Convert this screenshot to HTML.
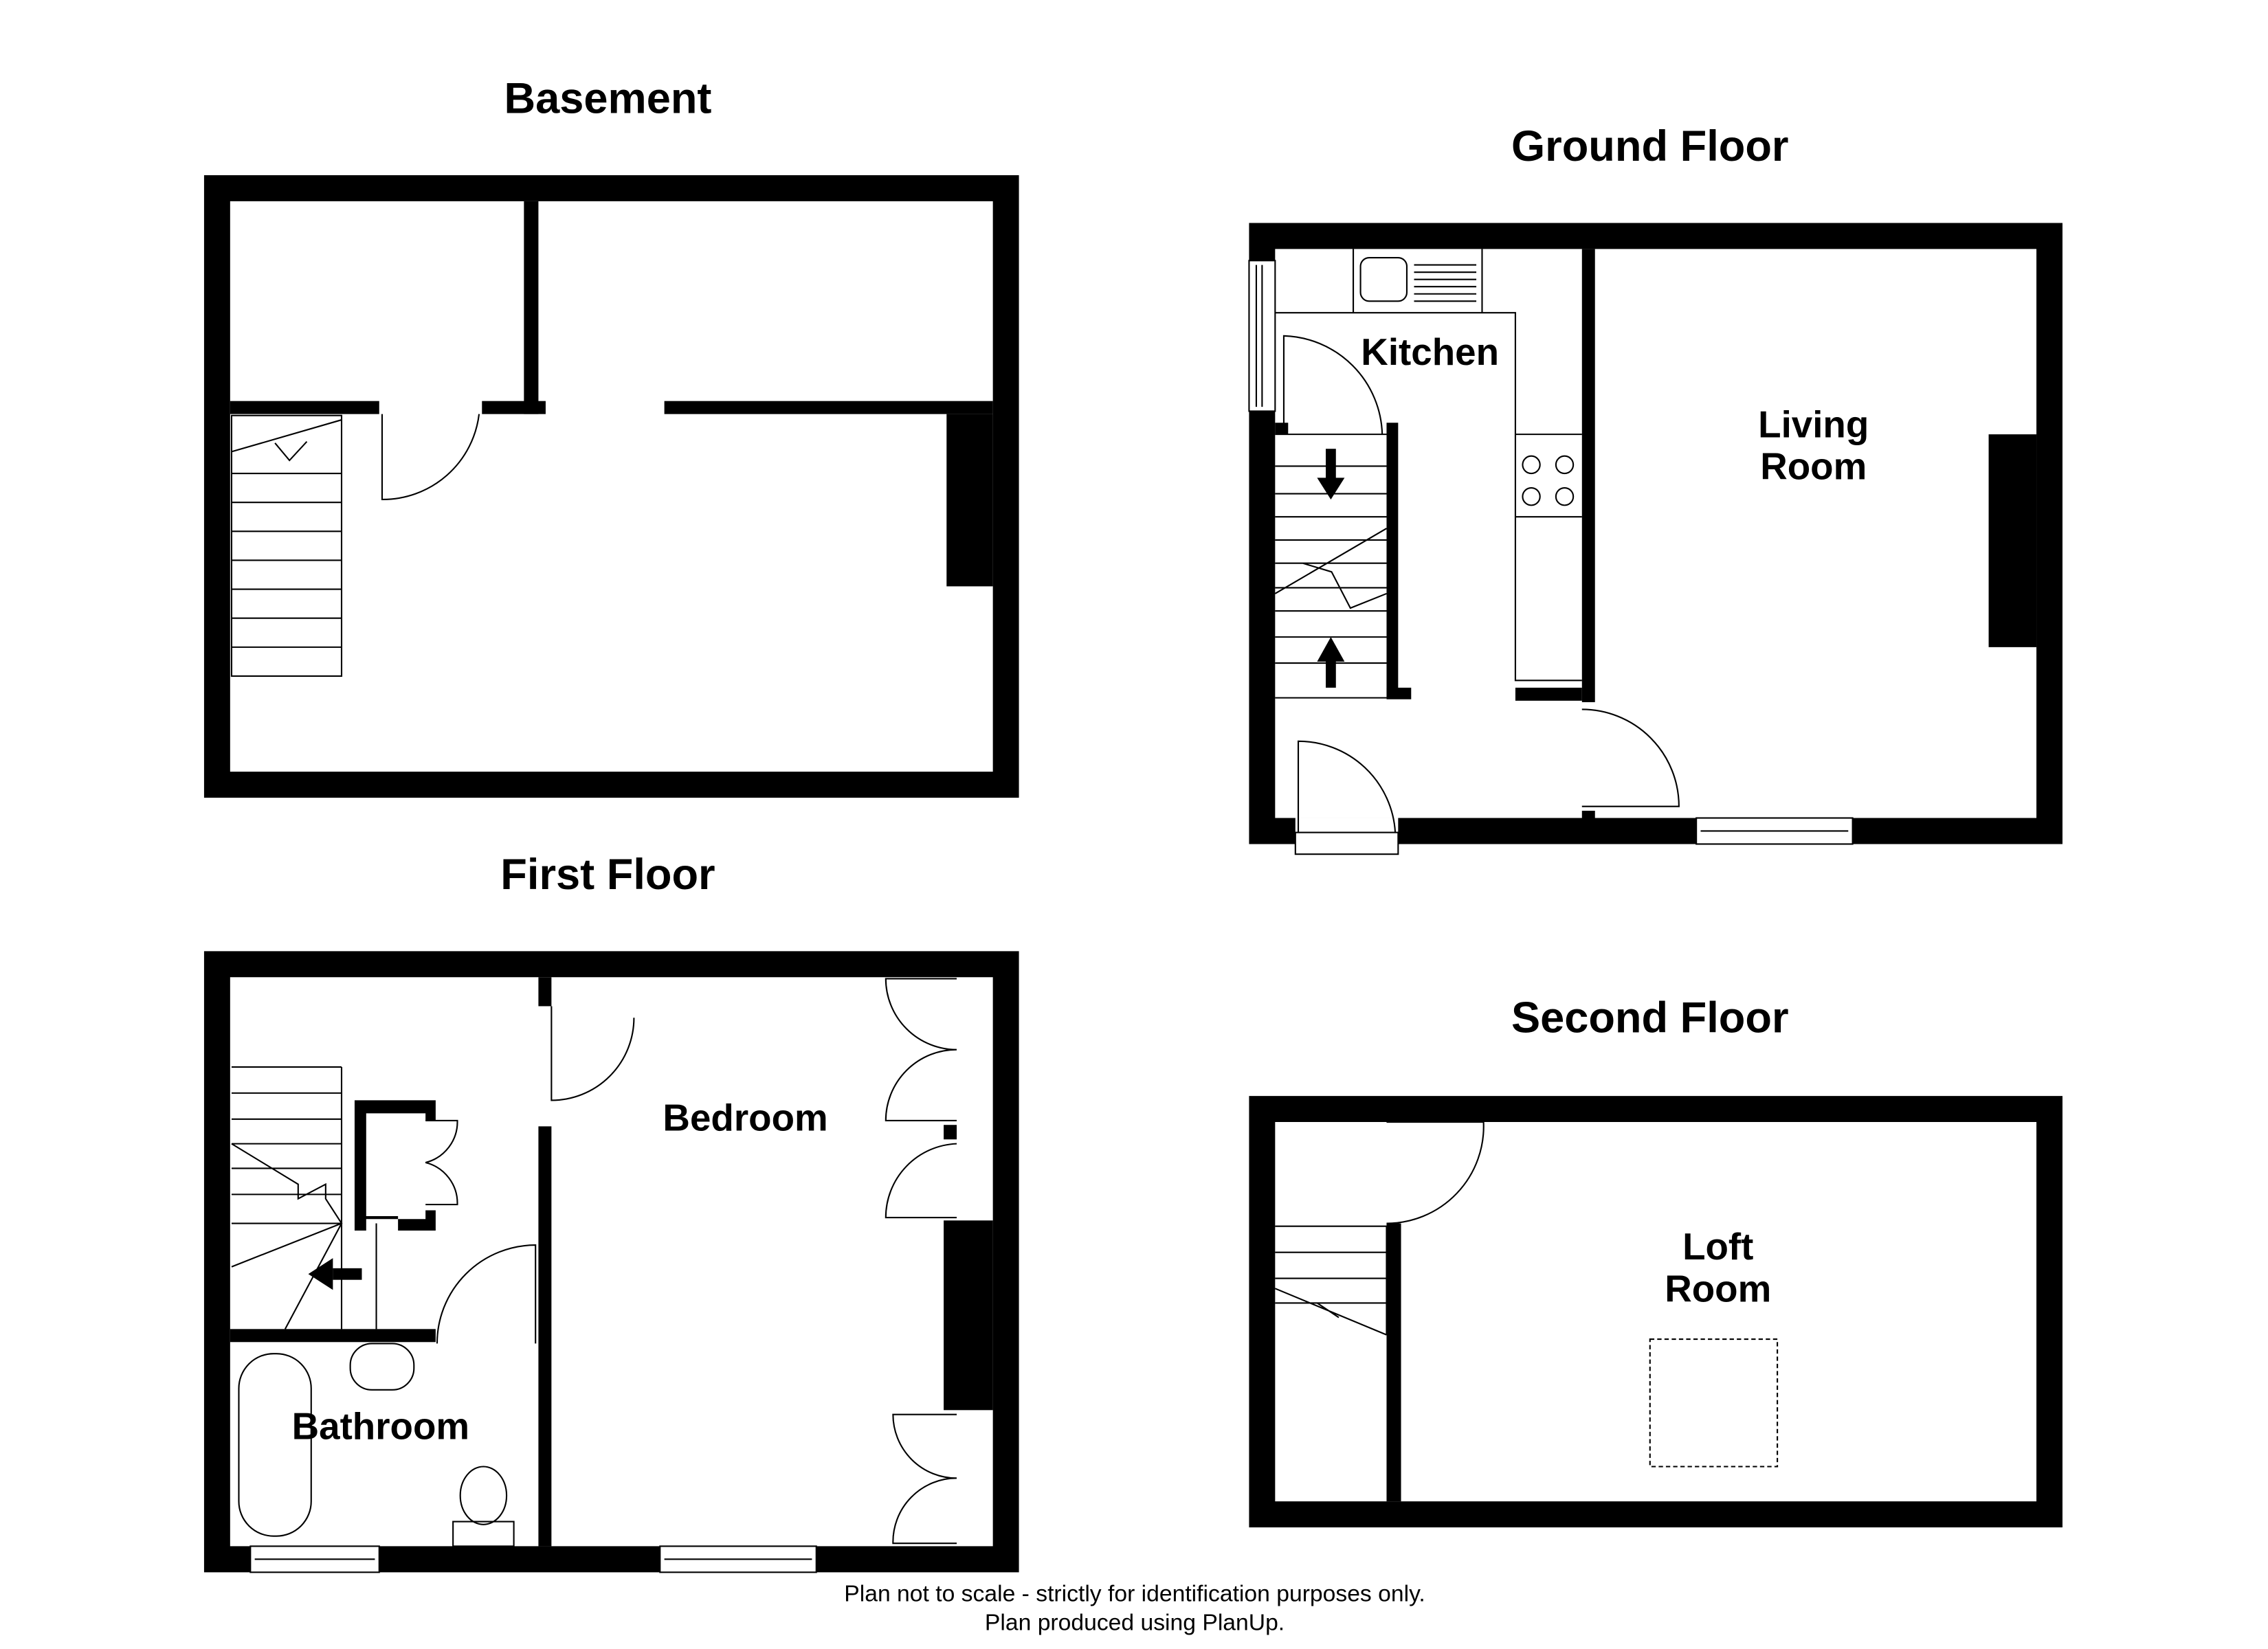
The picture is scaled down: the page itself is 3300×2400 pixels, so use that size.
<!DOCTYPE html>
<html><head><meta charset="utf-8"><style>html,body{margin:0;padding:0;background:#fff}svg{display:block}</style></head>
<body>
<svg width="3300" height="2400" viewBox="0 0 1567 1139" preserveAspectRatio="none" xmlns="http://www.w3.org/2000/svg" font-family="Liberation Sans, Arial, sans-serif">
<rect width="1567" height="1139" fill="#fff"/>
<g font-weight="bold" font-size="30" text-anchor="middle" fill="#000">
<text x="420" y="78">Basement</text>
<text x="1140" y="111">Ground Floor</text>
<text x="420" y="614">First Floor</text>
<text x="1140" y="713">Second Floor</text>
</g>
<g fill="none" stroke="#000" stroke-width="1">
<!-- BASEMENT -->
<path fill-rule="evenodd" fill="#000" stroke="none" d="M141 121H704V551H141Z M159 139H686V533H159Z"/>
<rect x="362" y="139" width="10" height="147" fill="#000" stroke="none"/>
<rect x="159" y="277" width="103" height="9" fill="#000" stroke="none"/>
<rect x="333" y="277" width="44" height="9" fill="#000" stroke="none"/>
<rect x="459" y="277" width="227" height="9" fill="#000" stroke="none"/>
<rect x="654" y="286" width="32" height="119" fill="#000" stroke="none"/>
<rect x="160" y="287" width="76" height="180"/>
<path d="M160 327H236M160 347H236M160 367H236M160 387H236M160 407H236M160 427H236M160 447H236M160 312L236 290M190 306L200 318L212 305"/>
<path d="M264 286V345A67 67 0 0 0 331 286"/>
<!-- GROUND -->
<path fill-rule="evenodd" fill="#000" stroke="none" d="M863 154H1425V583H863Z M881 172H1407V565H881Z"/>
<rect x="1093" y="172" width="9" height="313" fill="#000" stroke="none"/>
<rect x="1047" y="475" width="46" height="9" fill="#000" stroke="none"/>
<rect x="1093" y="560" width="9" height="6" fill="#000" stroke="none"/>
<rect x="1374" y="300" width="33" height="147" fill="#000" stroke="none"/>
<rect x="958" y="292" width="8" height="190" fill="#000" stroke="none"/>
<rect x="958" y="475" width="17" height="8" fill="#000" stroke="none"/>
<rect x="881" y="292" width="9" height="8" fill="#000" stroke="none"/>
<rect x="863" y="180" width="18" height="104" fill="#fff"/>
<path d="M872 183V281M868 183V281"/>
<rect x="895" y="565" width="71" height="18" fill="#fff" stroke="none"/>
<rect x="895" y="575" width="71" height="15" fill="#fff"/>
<path d="M897 575V512A67 67 0 0 1 964 575"/>
<rect x="1172" y="565" width="108" height="18" fill="#fff"/>
<path d="M1175 574H1277"/>
<path d="M881 216H1047V470H1093M1047 300H1093M1047 357H1093M935 172V216M1024 172V216"/>
<rect x="940" y="178" width="32" height="30" rx="6"/>
<path d="M977 183H1020M977 188H1020M977 193H1020M977 198H1020M977 203H1020M977 208H1020"/>
<circle cx="1058" cy="321" r="6"/><circle cx="1081" cy="321" r="6"/><circle cx="1058" cy="343" r="6"/><circle cx="1081" cy="343" r="6"/>
<path d="M887 300V232A70 70 0 0 1 955 300"/>
<path d="M881 300H958M881 322H958M881 341H958M881 357H958M881 373H958M881 389H958M881 406H958M881 422H958M881 440H958M881 458H958M881 482H958M881 410L958 365M900 389L920 395L933 420L958 410"/>
<path d="M1093 490A67 67 0 0 1 1160 557H1093"/>
</g>
<g fill="#000">
<rect x="916" y="310" width="7" height="22"/><path d="M910 330H929L919.5 345Z"/>
<rect x="916" y="455" width="7" height="20"/><path d="M910 457H929L919.5 440Z"/>
<rect x="230" y="876" width="20" height="8"/><path d="M213 880L230 869V891Z"/>
</g>
<g fill="none" stroke="#000" stroke-width="1">
<!-- FIRST -->
<path fill-rule="evenodd" fill="#000" stroke="none" d="M141 657H704V1086H141Z M159 675H686V1068H159Z"/>
<rect x="372" y="675" width="9" height="20" fill="#000" stroke="none"/>
<rect x="372" y="778" width="9" height="290" fill="#000" stroke="none"/>
<rect x="159" y="918" width="142" height="9" fill="#000" stroke="none"/>
<path fill="#000" stroke="none" d="M245 760H301V774H294V769H253V840H275V850H301V836H294V842H253V850H245Z"/>
<rect x="652" y="843" width="34" height="131" fill="#000" stroke="none"/>
<rect x="652" y="777" width="9" height="10" fill="#000" stroke="none"/>
<rect x="173" y="1068" width="89" height="18" fill="#fff"/><path d="M176 1077H259"/>
<rect x="456" y="1068" width="108" height="18" fill="#fff"/><path d="M459 1077H561"/>
<path d="M381 695V760A57 57 0 0 0 438 703"/>
<path d="M302 928A68 68 0 0 1 370 860V928"/>
<path d="M160 737H236M160 755H236M160 773H236M160 790H236M160 807H236M160 825H236M160 845H236M236 737V918M160 790L206 818V828L225 818V828L236 845L160 875M236 845L197 918M260 845V918"/>
<path d="M294 774H316A29 29 0 0 1 294 803A29 29 0 0 1 316 832H294"/>
<path d="M661 676H612A49 49 0 0 0 661 725A49 49 0 0 0 612 774H661"/>
<path d="M661 790A51 51 0 0 0 612 841H661"/>
<path d="M661 977H617A44 44 0 0 0 661 1021A44 44 0 0 0 617 1066H661"/>
<rect x="165" y="935" width="50" height="126" rx="24"/>
<rect x="242" y="928" width="44" height="32" rx="15"/>
<ellipse cx="334" cy="1033" rx="16" ry="20"/><rect x="313" y="1051" width="42" height="17"/>
<!-- SECOND -->
<path fill-rule="evenodd" fill="#000" stroke="none" d="M863 757H1425V1055H863Z M881 775H1407V1037H881Z"/>
<rect x="958" y="845" width="10" height="192" fill="#000" stroke="none"/>
<path d="M958 845A67 67 0 0 0 1025 775H958"/>
<path d="M881 847H958M881 865H958M881 883H958M881 900H958M958 847V922M881 890L958 922M910 900L925 910"/>
<rect x="1140" y="925" width="88" height="88" stroke-dasharray="3 2"/>
</g>
<g font-weight="bold" font-size="26" text-anchor="middle" fill="#000">
<text x="988" y="252">Kitchen</text>
<text x="1253" y="302">Living</text><text x="1253" y="331">Room</text>
<text x="515" y="781">Bedroom</text>
<text x="263" y="994">Bathroom</text>
<text x="1187" y="870">Loft</text><text x="1187" y="899">Room</text>
</g>
<g font-size="16" text-anchor="middle" fill="#000">
<text x="784" y="1106">Plan not to scale - strictly for identification purposes only.</text>
<text x="784" y="1126">Plan produced using PlanUp.</text>
</g>
</svg>
</body></html>
